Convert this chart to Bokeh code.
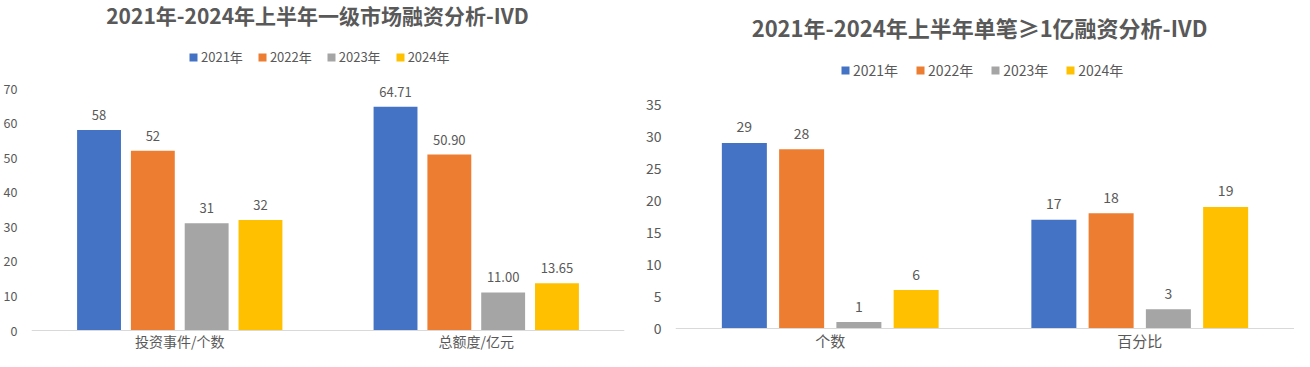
from bokeh.plotting import figure
from bokeh.models import (ColumnDataSource, FactorRange, Range1d, LabelSet, Label,
                          Legend, LegendItem, FixedTicker, Span)
from bokeh.transform import dodge
from bokeh.layouts import row
from bokeh.embed import file_html
from bokeh.resources import INLINE
from bokeh.core.properties import value

# ---------------- data ----------------
years = ["2021年", "2022年", "2023年", "2024年"]
colors = ["#4472C4", "#ED7D31", "#A5A5A5", "#FFC000"]

left_title = "2021年-2024年上半年一级市场融资分析-IVD"
left_categories = ["投资事件/个数", "总额度/亿元"]
left_ticks = [0, 10, 20, 30, 40, 50, 60, 70]
left_2021 = [58, 64.71]
left_2022 = [52, 50.90]
left_2023 = [31, 11.00]
left_2024 = [32, 13.65]
left_formats = ["{:.0f}", "{:.2f}"]

right_title = "2021年-2024年上半年单笔≥1亿融资分析-IVD"
right_categories = ["个数", "百分比"]
right_ticks = [0, 5, 10, 15, 20, 25, 30, 35]
right_2021 = [29, 17]
right_2022 = [28, 18]
right_2023 = [1, 3]
right_2024 = [6, 19]
right_formats = ["{:.0f}", "{:.0f}"]

FONT = "Noto Sans CJK SC"
TXT = "#595959"


def make_chart(title, cats, series, formats, ticks, cfg):
    H = cfg["height"]
    base = cfg["base"]          # baseline position (px from top of figure)
    ppu = cfg["ppu"]            # pixels per data unit
    p = figure(width=cfg["width"], height=H,
               x_range=FactorRange(factors=cats, range_padding=0),
               y_range=Range1d(-(H - base) / ppu, base / ppu),
               output_backend="svg", toolbar_location=None,
               min_border_left=cfg["bl"], min_border_right=cfg["br"],
               min_border_top=0, min_border_bottom=0,
               background_fill_color="white", border_fill_color="white")
    p.outline_line_color = None
    p.xgrid.visible = False
    p.ygrid.visible = False
    p.xaxis.visible = False

    ya = p.yaxis[0]
    ya.ticker = FixedTicker(ticks=ticks)
    ya.axis_line_color = None
    ya.major_tick_line_color = None
    ya.minor_tick_line_color = None
    ya.major_tick_out = 0
    ya.minor_tick_out = 0
    ya.major_label_text_font = FONT
    ya.major_label_text_font_size = cfg["tick_fs"]
    ya.major_label_text_color = TXT
    ya.major_label_standoff = cfg["y_standoff"]

    # category axis baseline
    p.add_layout(Span(location=0, dimension="width", line_color="#D9D9D9", line_width=1))

    items = []
    n = len(series)
    for i, (yr, vals, col) in enumerate(zip(years, series, colors)):
        off = (i - (n - 1) / 2) * cfg["pitch"]
        src = ColumnDataSource(dict(
            x=cats, top=vals,
            label=[f.format(v) for f, v in zip(formats, vals)]))
        r = p.vbar(x=dodge("x", off, range=p.x_range), top="top", bottom=0,
                   width=cfg["bar_w"], source=src, fill_color=col, line_color=None)
        items.append(LegendItem(label=yr, renderers=[r]))
        p.add_layout(LabelSet(x=dodge("x", off, range=p.x_range), y="top", text="label",
                              source=src, y_offset=cfg["lab_off"],
                              text_align="center", text_baseline="middle",
                              text_font=value(FONT), text_font_size=value(cfg["lab_fs"]),
                              text_color=TXT))

    # category labels under the baseline
    csrc = ColumnDataSource(dict(x=cats, y=[0] * len(cats), t=cats))
    p.add_layout(LabelSet(x="x", y="y", text="t", source=csrc, y_offset=-cfg["cat_off"],
                          text_align="center", text_baseline="middle",
                          text_font=value(FONT), text_font_size=value(cfg["cat_fs"]),
                          text_color=TXT))

    legend = Legend(items=items, location=cfg["leg_loc"], orientation="horizontal",
                    padding=0, margin=0, spacing=cfg["leg_spacing"],
                    glyph_width=10, glyph_height=10, label_standoff=3,
                    label_height=12,
                    label_text_font=FONT, label_text_font_size=cfg["leg_fs"],
                    label_text_color=TXT, border_line_color=None,
                    background_fill_alpha=0)
    p.add_layout(legend)

    p.add_layout(Label(x=cfg["title_x"], y=cfg["title_y"], x_units="screen", y_units="screen",
                       text=title, text_align="center", text_baseline="middle",
                       text_font=FONT, text_font_style="bold",
                       text_font_size=cfg["title_fs"], text_color=TXT))
    return p


left_cfg = dict(width=630, height=351, bl=29, br=6, base=330, ppu=3.457,
                pitch=0.1815, bar_w=0.148,
                cat_fs="14px", tick_fs="12.5px", lab_fs="13px", leg_fs="13px",
                cat_off=10, y_standoff=14, lab_off=15,
                leg_loc=(157, 285), leg_spacing=14,
                title_x=286, title_y=337, title_fs="21px")

right_cfg = dict(width=664, height=351, bl=45, br=0, base=328, ppu=6.4,
                 pitch=0.185, bar_w=0.1454,
                 cat_fs="15px", tick_fs="14px", lab_fs="14px", leg_fs="14px",
                 cat_off=12, y_standoff=14, lab_off=16,
                 leg_loc=(165, 271), leg_spacing=17,
                 title_x=304, title_y=325, title_fs="22px")

p1 = make_chart(left_title, left_categories,
                [left_2021, left_2022, left_2023, left_2024],
                left_formats, left_ticks, left_cfg)
p2 = make_chart(right_title, right_categories,
                [right_2021, right_2022, right_2023, right_2024],
                right_formats, right_ticks, right_cfg)

layout = row(p1, p2)
open("out.html", "w").write(file_html(layout, INLINE))
